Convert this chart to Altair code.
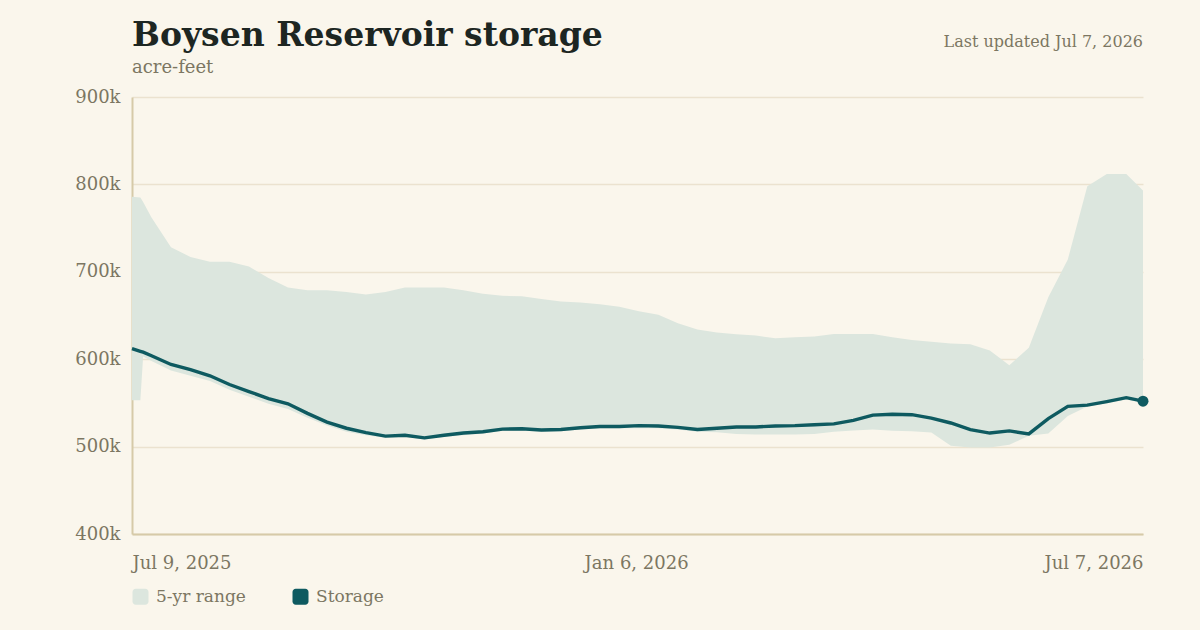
import altair as alt
import pandas as pd

# Daily offsets (days after 2025-07-09) at which the series are sampled
days = [0, 3, 4, 7, 14, 21, 28, 35, 42, 49, 56, 63, 70, 77, 84, 91, 98, 105,
        112, 119, 126, 133, 140, 147, 154, 161, 168, 175, 182, 189, 196, 203,
        210, 217, 224, 231, 238, 245, 252, 259, 266, 273, 280, 287, 294, 301,
        308, 315, 322, 329, 336, 343, 350, 357, 363]

# Reservoir storage, thousand acre-feet
storage = [612, 609, 608, 604, 594, 588, 581, 571, 563, 555, 549, 538, 528,
           521, 516, 512, 513, 510, 513, 515.5, 517, 520, 520.5, 519, 519.5,
           521.5, 523, 523, 524, 523.5, 522, 519.5, 521, 522.5, 522.5, 523.5,
           524, 525, 526, 530, 536, 537, 536.5, 532.5, 527, 519.5, 515.5, 518,
           514.5, 532, 546, 547.5, 551.5, 556, 552]

# 5-year range: maximum and minimum, thousand acre-feet
range_max = [786, 785, 780, 762, 728, 717, 711.6, 711.6, 706, 693, 682, 679,
             679, 677, 674, 677, 682, 682, 682, 679, 675, 672.5, 672, 669, 666,
             665, 663, 660, 655, 651, 641, 634, 630.5, 628.5, 627, 624, 625,
             626, 628.8, 628.8, 628.8, 625, 622, 620, 618, 617, 610, 593, 613,
             671, 714, 798, 812, 812, 793]
range_min = [553, 553, 603, 598, 587, 581, 575, 565, 557, 549, 543, 533, 524,
             517, 513, 510, 511, 508, 511, 513, 515, 518, 518.5, 517, 517.5,
             519.5, 521, 521, 521, 521, 519.5, 517, 516.5, 514.5, 513.8, 513.8,
             513.8, 514.5, 517, 518.5, 519.5, 518, 517.6, 516, 501, 499, 499,
             502, 512.5, 515, 535, 546, 549.5, 554, 550]

series_names = ["5-yr range", "Storage"]
series_colors = ["#dce6de", "#0e5a60"]

TITLE = "Boysen Reservoir storage"
SUBTITLE = "acre-feet"
UPDATED = "Last updated Jul 7, 2026"

start = pd.Timestamp("2025-07-09")
dates = [(start + pd.Timedelta(days=d)).strftime("%Y-%m-%dT00:00:00") for d in days]

df = pd.DataFrame({
    "date": dates,
    "storage": [v * 1000 for v in storage],
    "hi": [v * 1000 for v in range_max],
    "lo": [v * 1000 for v in range_min],
    "series": "5-yr range",
})
last = df.tail(1)

BG = "#faf6ec"
MUTED = "#7c7662"
SERIF = "DejaVu Serif"
W, H = 1011, 437

x_enc = alt.X(
    "date:T",
    title=None,
    scale=alt.Scale(domain=["2025-07-09T00:00:00", "2026-07-07T00:00:00"]),
    axis=alt.Axis(
        values=[
            alt.DateTime(year=2025, month=7, date=9),
            alt.DateTime(year=2026, month=1, date=6),
            alt.DateTime(year=2026, month=7, date=7),
        ],
        format="%b %-d, %Y",
        labelFlush=True,
        grid=False,
        ticks=False,
        domainColor="#d6caa8",
        domainWidth=2,
        labelPadding=20,
        labelFontSize=18,
        labelColor=MUTED,
        labelFont=SERIF,
    ),
)

y_scale = alt.Scale(domain=[400000, 900000], nice=False, zero=False)

band = alt.Chart(df).mark_area(opacity=1).encode(
    x=x_enc,
    y=alt.Y(
        "lo:Q",
        title=None,
        scale=y_scale,
        axis=alt.Axis(
            values=[400000, 500000, 600000, 700000, 800000, 900000],
            labelExpr="datum.value / 1000 + 'k'",
            gridColor="#ebe2cf",
            gridWidth=1.5,
            ticks=False,
            domainColor="#d6caa8",
            domainWidth=2,
            labelPadding=12,
            labelFontSize=18,
            labelColor=MUTED,
            labelFont=SERIF,
        ),
    ),
    y2="hi:Q",
    color=alt.Color(
        "series:N",
        scale=alt.Scale(domain=series_names, range=series_colors),
        legend=alt.Legend(
            title=None,
            orient="none",
            direction="horizontal",
            legendX=0,
            legendY=54 + H,
            symbolType="M-1,-0.6A0.4,0.4 0 0 1 -0.6,-1H0.6A0.4,0.4 0 0 1 1,-0.6V0.6A0.4,0.4 0 0 1 0.6,1H-0.6A0.4,0.4 0 0 1 -1,0.6Z",
            symbolSize=256,
            symbolStrokeWidth=0,
            symbolOpacity=1,
            labelFontSize=17,
            labelColor=MUTED,
            labelFont=SERIF,
            labelOffset=7,
            columnPadding=46,
        ),
    ),
)

line = alt.Chart(df).mark_line(color=series_colors[1], strokeWidth=3.4).encode(
    x="date:T", y="storage:Q"
)

end_dot = alt.Chart(last).mark_circle(color=series_colors[1], size=120, opacity=1).encode(
    x="date:T", y="storage:Q"
)

# Header texts placed above the plot area
title = alt.Chart(pd.DataFrame({"t": [TITLE]})).mark_text(
    align="left", baseline="alphabetic", font=SERIF, fontSize=33,
    fontWeight="bold", color="#1d2622"
).encode(x=alt.value(0), y=alt.value(-51), text="t:N")

subtitle = alt.Chart(pd.DataFrame({"t": [SUBTITLE]})).mark_text(
    align="left", baseline="alphabetic", font=SERIF, fontSize=18, color=MUTED
).encode(x=alt.value(0), y=alt.value(-24), text="t:N")

updated = alt.Chart(pd.DataFrame({"t": [UPDATED]})).mark_text(
    align="right", baseline="alphabetic", font=SERIF, fontSize=16, color=MUTED
).encode(x=alt.value(W), y=alt.value(-50), text="t:N")

chart = alt.layer(band, line, end_dot, title, subtitle, updated).properties(
    width=W,
    height=H,
    background=BG,
    padding={"left": 132, "top": 97, "right": 57, "bottom": 96},
    autosize=alt.AutoSizeParams(type="none"),
).configure_view(stroke=None)

chart.save("out.html", embed_options={"renderer": "svg", "actions": False})
